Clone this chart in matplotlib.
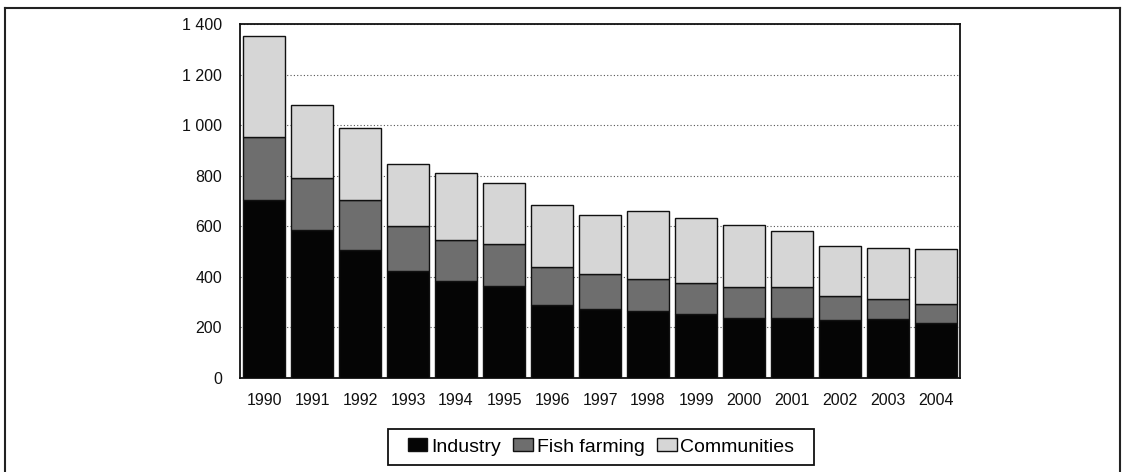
import matplotlib
matplotlib.use("Agg")
import matplotlib.pyplot as plt
from matplotlib.ticker import FuncFormatter, MultipleLocator
from matplotlib.lines import Line2D
from matplotlib.patches import Rectangle
from matplotlib import font_manager
import numpy as np

years = ["1990", "1991", "1992", "1993", "1994", "1995", "1996", "1997",
         "1998", "1999", "2000", "2001", "2002", "2003", "2004"]
industry = [705, 587, 506, 422, 385, 365, 288, 274, 266, 253, 236, 238, 228, 234, 216]
fish_farming_top = [955, 789, 703, 602, 544, 528, 440, 411, 393, 374, 360, 358, 323, 314, 294]
total = [1352, 1079, 988, 847, 811, 772, 685, 645, 661, 633, 607, 581, 523, 515, 511]

fish_farming = [f - i for f, i in zip(fish_farming_top, industry)]
communities = [t - f for t, f in zip(total, fish_farming_top)]

names = {f.name for f in font_manager.fontManager.ttflist}
narrow = 'Liberation Sans Narrow' in names
plt.rcParams['font.family'] = (['Liberation Sans Narrow'] if narrow else []) + ['Liberation Sans', 'DejaVu Sans']
tick_fs = 13 if narrow else 11.5
leg_fs = 17 if narrow else 14

W, H = 1124, 472
fig = plt.figure(figsize=(W/100, H/100), dpi=100)
ax = fig.add_axes([240/W, 1-378/H, 720/W, 354/H])

x = np.arange(len(years))
w = 0.86
ec = '#111111'
b1 = ax.bar(x, industry, w, color='#050505', edgecolor=ec, linewidth=1.0, label='Industry', zorder=3)
b2 = ax.bar(x, fish_farming, w, bottom=industry, color='#6e6e6e', edgecolor=ec, linewidth=1.0,
            label='Fish farming', zorder=3)
b3 = ax.bar(x, communities, w, bottom=fish_farming_top, color='#d6d6d6', edgecolor=ec, linewidth=1.0,
            label='Communities', zorder=3)

ax.set_xlim(-0.5, len(years) - 0.5)
ax.set_ylim(0, 1400)
ax.yaxis.set_major_locator(MultipleLocator(200))
ax.yaxis.set_major_formatter(FuncFormatter(lambda v, p: f"{int(v):,}".replace(",", " ")))
ax.set_xticks(x)
ax.set_xticklabels(years)
ax.tick_params(axis='both', length=0, labelsize=tick_fs, colors='#111111')
ax.tick_params(axis='y', pad=13)
ax.tick_params(axis='x', pad=11)
ax.yaxis.grid(True, linestyle=(0, (1, 2)), color='#555555', linewidth=0.8, zorder=0)
for s in ax.spines.values():
    s.set_color('#111111')
    s.set_linewidth(1.3)

leg = fig.legend(handles=[b1, b2, b3], labels=['Industry', 'Fish farming', 'Communities'],
                 loc='center', bbox_to_anchor=(601/W, 1-447/H), ncol=3, fontsize=leg_fs,
                 frameon=False, handlelength=1.0, handleheight=0.6, handletextpad=0.2,
                 columnspacing=0.65, borderpad=0.2, borderaxespad=0)

# legend box
fig.add_artist(Rectangle((388/W, 1-465/H), 426/W, 36/H, transform=fig.transFigure,
                         fill=False, edgecolor='#111111', linewidth=1.3))

# outer frame (top, left, right)
fx0, fx1, fy = 5/W, 1120/W, 1-8/H
fig.add_artist(Line2D([fx0, fx1], [fy, fy], transform=fig.transFigure, color='#222222', linewidth=1.5))
fig.add_artist(Line2D([fx0, fx0], [0, fy], transform=fig.transFigure, color='#222222', linewidth=1.5))
fig.add_artist(Line2D([fx1, fx1], [0, fy], transform=fig.transFigure, color='#222222', linewidth=1.5))

fig.savefig("out.png", dpi=100)
